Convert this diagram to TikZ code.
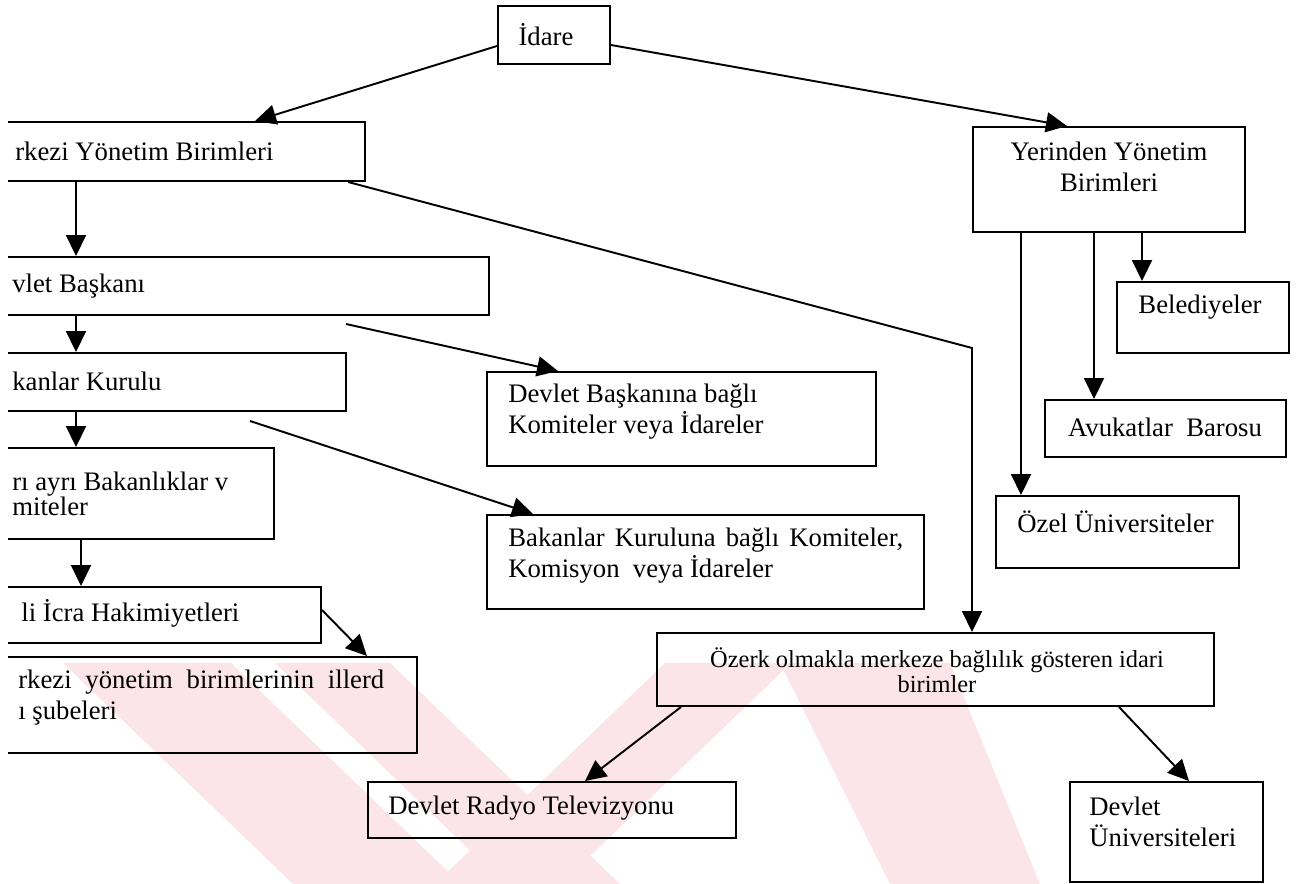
\documentclass[tikz,border=0pt]{standalone}
\usepackage{fontspec}
\setmainfont{Liberation Serif}
\usetikzlibrary{arrows.meta,fit}
\definecolor{wm}{RGB}{252,229,233}
\begin{document}
\begin{tikzpicture}[x=0.02cm,y=-0.02cm,
  box/.style={draw,line width=1.1pt,inner sep=0pt},
  txt/.style={inner sep=0pt,font=\fontsize{15.2}{17.6}\selectfont},
  tight/.style={inner sep=0pt,font=\fontsize{15.2}{14.2}\selectfont},
  small/.style={inner sep=0pt,font=\fontsize{13.9}{14.2}\selectfont},
  ar/.style={line width=1.1pt,-{Triangle[length=0.42cm,width=0.4cm]}},
  ln/.style={line width=1.1pt}]
\useasboundingbox (0,0) rectangle (1298,884);
% watermark (faint background emblem)
\fill[wm] (63,663) -- (231,663) -- (461,884) -- (293,884) -- cycle;
\fill[wm] (275,663) -- (390,663) -- (620,884) -- (505,884) -- cycle;
\fill[wm] (435,884) -- (561,884) -- (791,663) -- (665,663) -- cycle;
\fill[wm] (780,663) -- (950,663) -- (1040,884) -- (890,884) -- cycle;
% left boxes, cut at the left edge
\begin{scope}
\clip (8,0) rectangle (1298,884);
\node[box,fit={(-20,122)(365,181)}] (merk) {};
\node[box,fit={(-20,257)(489,315)}] (devlet) {};
\node[box,fit={(-20,353)(346,411)}] (bakan) {};
\node[box,fit={(-20,448)(274,539)}] (ayri) {};
\node[box,fit={(-20,587)(321,643)}] (yerli) {};
\node[box,fit={(-20,657)(417,753)}] (iller) {};
\end{scope}
% other boxes
\node[box,fit={(498,6)(610,64)}] (idare) {};
\node[box,fit={(487,372)(876,466)}] (dbk) {};
\node[box,fit={(487,515)(924,609)}] (bkb) {};
\node[box,fit={(973,127)(1245,232)}] (yer) {};
\node[box,fit={(1117,282)(1289,353)}] (beled) {};
\node[box,fit={(1045,400)(1286,457)}] (avuk) {};
\node[box,fit={(996,496)(1239,568)}] (ozel) {};
\node[box,fit={(657,633)(1214,706)}] (ozerk) {};
\node[box,fit={(368,782)(736,838)}] (drt) {};
\node[box,fit={(1070,782)(1263,882)}] (dun) {};
% texts
\node[txt] (tidare) at (546,35) {İdare};
\node[txt,anchor=west] (tmerk) at (15,151) {rkezi Yönetim Birimleri};
\node[txt,anchor=west] (tdevlet) at (12,286) {vlet Başkanı};
\node[txt,anchor=west] (tbakan) at (12,381) {kanlar Kurulu};
\node[tight,anchor=west,align=left] (tayri) at (12,494) {rı ayrı Bakanlıklar v\\miteler};
\node[txt,anchor=west] (tyerli) at (21,613) {li İcra Hakimiyetleri};
\node[txt,anchor=west,align=left] (tiller) at (18,698) {\makebox[7.32cm][s]{rkezi yönetim birimlerinin illerd}\\ı şubeleri};
\node[txt,anchor=west,align=left] (tdbk) at (508,412) {Devlet Başkanına bağlı\\Komiteler veya İdareler};
\node[txt,anchor=west,align=left] (tbkb) at (508,556) {\makebox[7.9cm][s]{Bakanlar Kuruluna bağlı Komiteler,}\\Komisyon\ \ veya İdareler};
\node[txt,align=center] (tyer) at (1109,167) {Yerinden Yönetim\\Birimleri};
\node[txt] (tbeled) at (1200,307) {Belediyeler};
\node[txt] (tavuk) at (1165,427) {Avukatlar\ \ Barosu};
\node[txt,anchor=west] (tozel) at (1017,522) {Özel Üniversiteler};
\node[small,align=center] (tozerk) at (937,670) {Özerk olmakla merkeze bağlılık gösteren idari\\birimler};
\node[txt,anchor=west] (tdrt) at (388,808) {Devlet Radyo Televizyonu};
\node[txt,anchor=west,align=left] (tdun) at (1089,822) {Devlet\\Üniversiteleri};
% free ends and bends
\coordinate (c1) at (346,324);
\coordinate (c2) at (250,421);
\coordinate (bend) at (972,348);
% connectors
\draw[ar] (idare.west |- 0,46) -- (255,0 |- merk.north);
\draw[ar] (idare.east |- 0,45) -- (1067,0 |- yer.north);
\draw[ar] (76,0 |- merk.south) -- (76,0 |- devlet.north);
\draw[ar] (76,0 |- devlet.south) -- (76,0 |- bakan.north);
\draw[ar] (76,0 |- bakan.south) -- (76,0 |- ayri.north);
\draw[ar] (81,0 |- ayri.south) -- (81,0 |- yerli.north);
\draw[ar] (yerli.east |- 0,610) -- (367,0 |- iller.north);
\draw[ar] (c1) -- (558,0 |- dbk.north);
\draw[ar] (c2) -- (533,0 |- bkb.north);
\draw[ar] (348,0 |- merk.south) -- (bend) -- (972,0 |- ozerk.north);
\draw[ar] (1142,0 |- yer.south) -- (1142,0 |- beled.north);
\draw[ar] (1094,0 |- yer.south) -- (1094,0 |- avuk.north);
\draw[ar] (1021,0 |- yer.south) -- (1021,0 |- ozel.north);
\draw[ar] (681,0 |- ozerk.south) -- (585,0 |- drt.north);
\draw[ar] (1119,0 |- ozerk.south) -- (1189,0 |- dun.north);
\end{tikzpicture}
\end{document}
